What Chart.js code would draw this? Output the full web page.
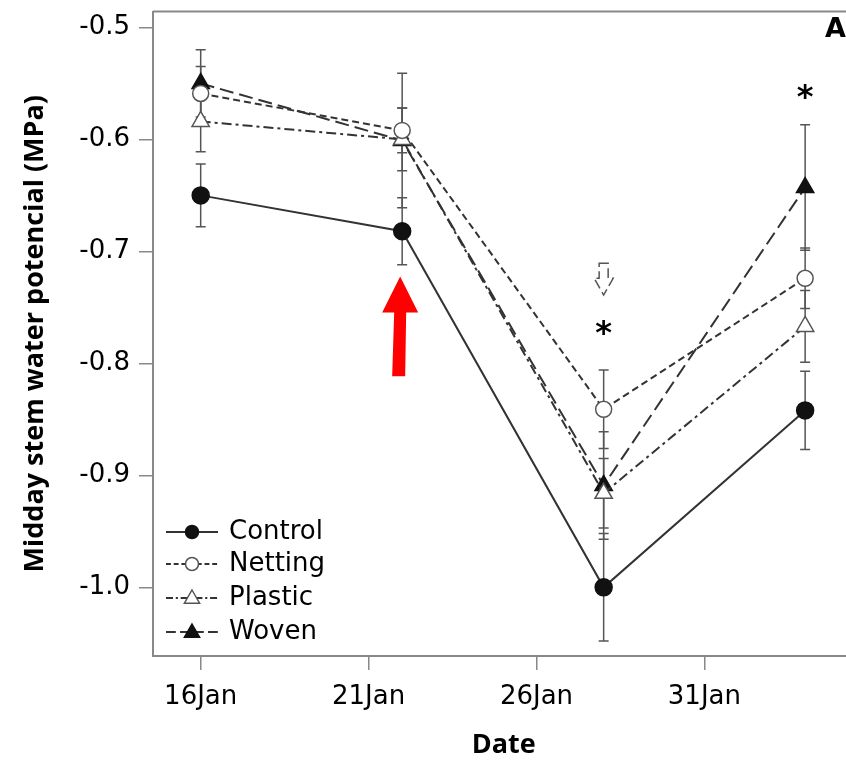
<!DOCTYPE html>
<html>
<head>
<meta charset="utf-8">
<script src="https://cdn.jsdelivr.net/npm/chart.js@4.4.1/dist/chart.umd.min.js"></script>
<style>
  html, body { margin: 0; padding: 0; background: #fff; overflow: hidden; }
  #wrap { width: 846px; height: 761px; overflow: hidden; }
</style>
</head>
<body>
<div id="wrap"><canvas id="chart" width="866" height="761"></canvas></div>
<script>
// sampling dates as day numbers counted from 1 Jan (34 = 3 Feb)
const days = [16, 22, 28, 34];
const seriesNames = ['Control', 'Netting', 'Plastic', 'Woven'];

const control = [-0.650, -0.682, -1.000, -0.842];
const controlErr = [0.028, 0.030, 0.048, 0.035];
const netting = [-0.559, -0.592, -0.841, -0.724];
const nettingErr = [0.024, 0.020, 0.035, 0.027];
const plastic = [-0.584, -0.600, -0.916, -0.767];
const plasticErr = [0.027, 0.028, 0.031, 0.032];
const woven = [-0.550, -0.601, -0.909, -0.643];
const wovenErr = [0.030, 0.060, 0.048, 0.056];

const xTickDays = [16, 21, 26, 31];
const xTickLabels = ['16Jan', '21Jan', '26Jan', '31Jan'];
const yTicks = [-0.5, -0.6, -0.7, -0.8, -0.9, -1.0];

// significance marks and the treatment arrow
const starDays = [28, 34];
const starValues = [-0.772, -0.561];
const redArrowDay = 22;
const hollowArrowDay = 28;

const lineColor = '#333';
const errColor = '#555';
const tickFont = { family: 'DejaVu Sans', size: 26 };
const titleFont = { family: 'Open Sans', size: 27, weight: 'bold', lineHeight: 1 };

function pts(vals) {
  return vals.map((v, i) => ({ x: days[i], y: v }));
}

const errs = [controlErr, nettingErr, plasticErr, wovenErr];

const ds = [
  { label: seriesNames[0], data: pts(control), borderDash: [],
    pointStyle: 'circle', pointRadius: 8.5, pointBackgroundColor: '#111', pointBorderColor: '#111' },
  { label: seriesNames[1], data: pts(netting), borderDash: [7, 4],
    pointStyle: 'circle', pointRadius: 8, pointBackgroundColor: '#fff', pointBorderColor: '#555' },
  { label: seriesNames[2], data: pts(plastic), borderDash: [10, 4, 3, 4],
    pointStyle: 'triangle', pointRadius: 10, pointBackgroundColor: '#fff', pointBorderColor: '#555' },
  { label: seriesNames[3], data: pts(woven), borderDash: [14, 6],
    pointStyle: 'triangle', pointRadius: 10, pointBackgroundColor: '#111', pointBorderColor: '#111' }
].map(d => Object.assign({
  borderColor: lineColor, borderWidth: 2, pointBorderWidth: 1.5, tension: 0
}, d));

function drawMarker(ctx, style, x, y, r, fill, stroke) {
  ctx.save();
  ctx.setLineDash([]);
  ctx.fillStyle = fill;
  ctx.strokeStyle = stroke;
  ctx.lineWidth = 1.5;
  ctx.beginPath();
  if (style === 'circle') {
    ctx.arc(x, y, r, 0, Math.PI * 2);
  } else {
    ctx.moveTo(x, y - r);
    ctx.lineTo(x + r * 0.95, y + r * 0.65);
    ctx.lineTo(x - r * 0.95, y + r * 0.65);
    ctx.closePath();
  }
  ctx.fill();
  ctx.stroke();
  ctx.restore();
}

const errorBars = {
  id: 'errorBars',
  beforeDatasetsDraw(chart) {
    const { ctx, scales: { y } } = chart;
    ctx.save();
    ctx.strokeStyle = errColor;
    ctx.lineWidth = 1.5;
    chart.data.datasets.forEach((d, di) => {
      const meta = chart.getDatasetMeta(di);
      meta.data.forEach((p, i) => {
        const v = d.data[i].y, e = errs[di][i];
        const y1 = y.getPixelForValue(v + e), y2 = y.getPixelForValue(v - e);
        ctx.beginPath();
        ctx.moveTo(p.x, y1); ctx.lineTo(p.x, y2);
        ctx.moveTo(p.x - 5, y1); ctx.lineTo(p.x + 5, y1);
        ctx.moveTo(p.x - 5, y2); ctx.lineTo(p.x + 5, y2);
        ctx.stroke();
      });
    });
    ctx.restore();
  }
};

const extras = {
  id: 'extras',
  afterDraw(chart) {
    const { ctx, chartArea: a, scales: { x, y } } = chart;
    ctx.save();
    // top frame line
    ctx.strokeStyle = '#888';
    ctx.lineWidth = 2;
    ctx.beginPath();
    ctx.moveTo(a.left, a.top); ctx.lineTo(a.right, a.top);
    ctx.stroke();

    // legend in lower left of the plot
    const rowY = [532, 564, 598, 632];
    chart.data.datasets.forEach((d, i) => {
      const ly = rowY[i];
      ctx.strokeStyle = lineColor;
      ctx.lineWidth = 2;
      ctx.setLineDash(d.borderDash.length ? d.borderDash.map(n => n * 0.7) : []);
      ctx.beginPath();
      ctx.moveTo(166, ly); ctx.lineTo(218, ly);
      ctx.stroke();
      drawMarker(ctx, d.pointStyle, 192, ly, d.pointStyle === 'circle' ? 6.5 : 8,
        d.pointBackgroundColor, d.pointBorderColor);
      ctx.fillStyle = '#000';
      ctx.font = '26px "DejaVu Sans"';
      ctx.textBaseline = 'middle';
      ctx.fillText(d.label, 229, ly);
    });

    // significance asterisks
    ctx.fillStyle = '#000';
    ctx.font = 'bold 32px "DejaVu Sans"';
    ctx.textAlign = 'center';
    ctx.textBaseline = 'middle';
    starDays.forEach((sd, i) => {
      ctx.fillText('*', x.getPixelForValue(sd), y.getPixelForValue(starValues[i]) + 3);
    });

    // panel letter
    ctx.textAlign = 'left';
    ctx.font = 'bold 27px "DejaVu Sans"';
    ctx.fillText('A', 825, 30);

    // red arrow
    const rx = x.getPixelForValue(redArrowDay) - 2;
    const tip = y.getPixelForValue(-0.7225), base = y.getPixelForValue(-0.7545), end = y.getPixelForValue(-0.8115);
    ctx.fillStyle = '#ff0000';
    ctx.beginPath();
    ctx.moveTo(rx, tip);
    ctx.lineTo(rx + 18, base);
    ctx.lineTo(rx + 6, base);
    ctx.lineTo(rx + 5, end);
    ctx.lineTo(rx - 8, end);
    ctx.lineTo(rx - 6, base);
    ctx.lineTo(rx - 18, base);
    ctx.closePath();
    ctx.fill();

    // hollow down arrow
    const hx = x.getPixelForValue(hollowArrowDay);
    const h0 = y.getPixelForValue(-0.7105), h1 = y.getPixelForValue(-0.724), h2 = y.getPixelForValue(-0.739);
    ctx.strokeStyle = '#555';
    ctx.lineWidth = 1.5;
    ctx.fillStyle = '#fff';
    ctx.beginPath();
    ctx.moveTo(hx - 4.5, h0);
    ctx.lineTo(hx + 4.5, h0);
    ctx.lineTo(hx + 4.5, h1);
    ctx.lineTo(hx + 9.5, h1);
    ctx.lineTo(hx, h2);
    ctx.lineTo(hx - 9.5, h1);
    ctx.lineTo(hx - 4.5, h1);
    ctx.closePath();
    ctx.fill();
    ctx.stroke();
    ctx.restore();
  }
};

new Chart(document.getElementById('chart'), {
  type: 'line',
  data: { datasets: ds },
  options: {
    responsive: false,
    animation: false,
    layout: { padding: { top: 8, right: 9, left: 0, bottom: 0 } },
    plugins: { legend: { display: false }, tooltip: { enabled: false } },
    scales: {
      x: {
        type: 'linear',
        min: 14.58,
        max: 35.47,
        afterBuildTicks: s => { s.ticks = xTickDays.map(v => ({ value: v })); },
        afterFit: s => { s.height = 105; s.paddingLeft = 0; s.paddingRight = 0; },
        ticks: {
          color: '#000', font: tickFont, padding: 12, maxRotation: 0,
          callback: v => xTickLabels[xTickDays.indexOf(v)]
        },
        grid: { drawOnChartArea: false, tickLength: 14, color: '#888', lineWidth: 1.5 },
        border: { color: '#888', width: 2 },
        title: { display: true, text: 'Date', color: '#000', font: titleFont, padding: { top: 0, bottom: 2 } }
      },
      y: {
        min: -1.0613,
        max: -0.4858,
        afterBuildTicks: s => { s.ticks = yTicks.map(v => ({ value: v })); },
        afterFit: s => { s.width = 153; s.paddingTop = 0; s.paddingBottom = 0; },
        ticks: { color: '#000', font: tickFont, padding: 9, callback: v => v.toFixed(1) },
        grid: { drawOnChartArea: false, tickLength: 14, color: '#888', lineWidth: 1.5 },
        border: { color: '#888', width: 2 },
        title: { display: true, text: 'Midday stem water potencial (MPa)', color: '#000', font: titleFont, padding: { top: 22, bottom: 0 } }
      }
    }
  },
  plugins: [errorBars, extras]
});
</script>
</body>
</html>
